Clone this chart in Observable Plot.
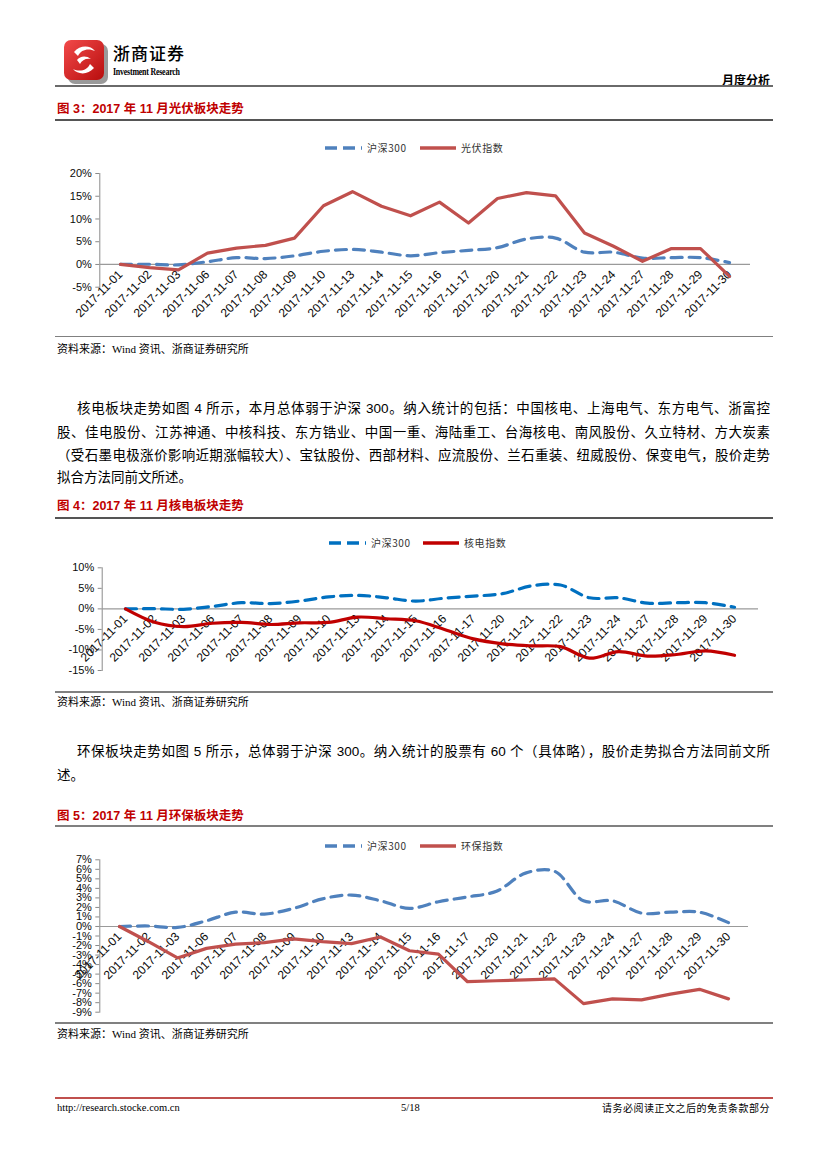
<!DOCTYPE html>
<html><head><meta charset="utf-8">
<script src="https://cdn.jsdelivr.net/npm/d3@7"></script>
<script src="https://cdn.jsdelivr.net/npm/@observablehq/plot@0.6"></script>
<style>
body{margin:0;background:#fff;}
#page{position:relative;width:827px;height:1169px;overflow:hidden;font-family:"Noto Sans CJK SC",sans-serif;color:#000;background:#fff;}
.abs{position:absolute;white-space:nowrap;}
.hr{position:absolute;left:55px;width:718px;}
.title{position:absolute;left:57px;font-family:"Liberation Sans","Noto Sans CJK SC";font-weight:bold;font-size:12.5px;color:#C00000;line-height:16px;white-space:nowrap;}
.src{position:absolute;left:57px;font-size:11px;line-height:14px;font-family:"Liberation Serif","Noto Sans CJK SC";white-space:nowrap;}
.pl{position:absolute;left:57px;width:713px;font-size:13.5px;line-height:18px;text-align:justify;text-align-last:justify;font-family:"Liberation Sans","Noto Sans CJK SC";}
.leg{position:absolute;font-size:10px;line-height:12px;color:#333;letter-spacing:0.6px;white-space:nowrap;}
.chart{position:absolute;left:0;overflow:visible;}
.chart text{fill:#0a0a0a;}
</style></head>
<body><div id="page"></div>
<script>
const dates = ["2017-11-01","2017-11-02","2017-11-03","2017-11-06","2017-11-07","2017-11-08","2017-11-09","2017-11-10","2017-11-13","2017-11-14","2017-11-15","2017-11-16","2017-11-17","2017-11-20","2017-11-21","2017-11-22","2017-11-23","2017-11-24","2017-11-27","2017-11-28","2017-11-29","2017-11-30"];
const hs300 = [0, 0.05, -0.1, 0.6, 1.5, 1.3, 1.9, 2.9, 3.3, 2.7, 1.9, 2.6, 3.1, 3.7, 5.6, 5.8, 2.7, 2.7, 1.4, 1.5, 1.5, 0.4];
const pvIndex = [0, -0.7, -1.2, 2.5, 3.6, 4.2, 5.8, 12.9, 16.0, 12.8, 10.7, 13.7, 9.1, 14.5, 15.8, 15.1, 6.9, 4.0, 0.7, 3.5, 3.5, -2.6];
const nuclearIndex = [0, -3.25, -4.3, -3.5, -3.3, -3.8, -3.4, -3.3, -2.0, -2.4, -2.9, -5.0, -7.3, -8.5, -9.0, -9.2, -12.0, -10.4, -11.5, -11.1, -10.2, -11.3];
const envIndex = [0, -1.6, -3.3, -2.3, -1.85, -1.7, -1.3, -1.6, -1.8, -1.1, -2.55, -2.9, -5.8, -5.7, -5.6, -5.5, -8.1, -7.6, -7.7, -7.1, -6.6, -7.6];

const ticks1 = [-5, 0, 5, 10, 15, 20];
const ticks2 = [-15, -10, -5, 0, 5, 10];
const ticks3 = [-9,-8,-7,-6,-5,-4,-3,-2,-1,0,1,2,3,4,5,6,7];

const page = document.getElementById("page");
function add(html){ page.insertAdjacentHTML("beforeend", html); }

// header
add(`<svg class="abs" style="left:62px;top:38px" width="48" height="48" viewBox="0 0 48 48">
<defs><linearGradient id="lg" x1="0" y1="0" x2="1" y2="1"><stop offset="0" stop-color="#f24a4a"/><stop offset="1" stop-color="#b80d0d"/></linearGradient></defs>
<rect x="6" y="6" width="40" height="40" rx="7" fill="#9a9a9a"/>
<rect x="2" y="2" width="40" height="40" rx="7" fill="url(#lg)"/>
<path d="M12 14 C18 7 28 7 33 13 C27 10 19 11 16 18 Z" fill="#fff"/>
<path d="M32 30 C26 37 16 37 11 31 C17 34 25 33 28 26 Z" fill="#fff"/>
<path d="M15 22 C18 18 24 17 29 21 C24 20 20 22 18 26 Z" fill="#fff"/>
</svg>`);
add(`<div class="abs" style="left:113px;top:43px;font-size:17px;line-height:20px;font-weight:500;letter-spacing:1px;">浙商证券</div>`);
add(`<div class="abs" style="left:113px;top:65px;font-family:'Liberation Serif';font-weight:bold;font-size:11px;line-height:12px;transform:scaleX(0.72);transform-origin:left;letter-spacing:-0.3px;">Investment Research</div>`);
add(`<div class="abs" style="right:57px;top:72px;font-size:12px;line-height:15px;font-weight:bold;">月度分析</div>`);
add(`<div class="hr" style="top:85px;height:2px;background:#6a6a6a"></div>`);

// figure 3
add(`<div class="title" style="top:101px">图 3：2017 年 11 月光伏板块走势</div>`);
add(`<div class="hr" style="top:119px;height:1.5px;background:#555"></div>`);
add(`<div class="hr" style="top:336px;height:1px;background:#808080"></div>`);
add(`<div class="src" style="top:342px">资料来源：Wind 资讯、浙商证券研究所</div>`);

// paragraph 1
add(`<div class="pl" style="top:400px;left:77px;width:693px">核电板块走势如图 4 所示，本月总体弱于沪深 300。纳入统计的包括：中国核电、上海电气、东方电气、浙富控</div>`);
add(`<div class="pl" style="top:424px">股、佳电股份、江苏神通、中核科技、东方锆业、中国一重、海陆重工、台海核电、南风股份、久立特材、方大炭素</div>`);
add(`<div class="pl" style="top:447px">（受石墨电极涨价影响近期涨幅较大）、宝钛股份、西部材料、应流股份、兰石重装、纽威股份、保变电气，股价走势</div>`);
add(`<div class="pl" style="top:469px;text-align:left;text-align-last:left">拟合方法同前文所述。</div>`);

// figure 4
add(`<div class="title" style="top:498px">图 4：2017 年 11 月核电板块走势</div>`);
add(`<div class="hr" style="top:517px;height:1.5px;background:#555"></div>`);
add(`<div class="hr" style="top:691px;height:2px;background:#808080"></div>`);
add(`<div class="src" style="top:695px">资料来源：Wind 资讯、浙商证券研究所</div>`);

// paragraph 2
add(`<div class="pl" style="top:743px;left:77px;width:693px">环保板块走势如图 5 所示，总体弱于沪深 300。纳入统计的股票有 60 个（具体略），股价走势拟合方法同前文所</div>`);
add(`<div class="pl" style="top:767px;text-align:left;text-align-last:left">述。</div>`);

// figure 5
add(`<div class="title" style="top:808px">图 5：2017 年 11 月环保板块走势</div>`);
add(`<div class="hr" style="top:825px;height:2px;background:#808080"></div>`);
add(`<div class="hr" style="top:1022px;height:1.5px;background:#808080"></div>`);
add(`<div class="src" style="top:1027px">资料来源：Wind 资讯、浙商证券研究所</div>`);

// footer
add(`<div class="hr" style="top:1097px;height:1.5px;background:#c0504d"></div>`);
add(`<div class="src" style="top:1101px;font-size:10.5px">http://research.stocke.com.cn</div>`);
add(`<div class="src" style="top:1101px;left:401px;font-size:10.5px">5/18</div>`);
add(`<div class="abs" style="right:57px;top:1101px;font-size:10px;line-height:14px;letter-spacing:0.5px">请务必阅读正文之后的免责条款部分</div>`);

// legends
function legend(y, x0, blue, red, name, redX, textX2, blueTextX){
  add(`<svg class="abs" style="left:${x0}px;top:${y-3}px" width="40" height="6"><line x1="0" y1="3" x2="37" y2="3" stroke="${blue}" stroke-width="3.5" stroke-dasharray="12,6"/></svg>`);
  add(`<div class="leg" style="left:${blueTextX}px;top:${y-6}px">沪深300</div>`);
  add(`<svg class="abs" style="left:${redX}px;top:${y-3}px" width="40" height="6"><line x1="0" y1="3" x2="36" y2="3" stroke="${red}" stroke-width="3.5"/></svg>`);
  add(`<div class="leg" style="left:${textX2}px;top:${y-6}px">${name}</div>`);
}
legend(148, 325, "#4F81BD", "#C0504D", "光伏指数", 420, 461, 367);
legend(543, 329, "#0070C0", "#C00000", "核电指数", 423, 464, 371);
legend(846, 325, "#4F81BD", "#C0504D", "环保指数", 420, 461, 367);

function chart(o){
  const table = dates.map((d,i)=>({date:d, hs:hs300[i], idx:o.values[i]}));
  const svg = Plot.plot({
    width: 827, height: o.height,
    marginTop: o.mt, marginBottom: o.mb, marginLeft: o.ml, marginRight: o.mr,
    style: {fontFamily: "Liberation Sans, Arial, sans-serif", fontSize: "11px", background: "transparent", overflow: "visible", color: "#8a8a8a"},
    x: {type: "point", domain: dates, padding: 0.5, axis: null},
    y: {domain: o.domain, ticks: o.ticks, tickFormat: d => d + "%", tickSize: 4, tickPadding: 4, line: true, label: null},
    marks: [
      Plot.ruleY([0], {stroke: "#9a9a9a", strokeWidth: 1.2}),
      Plot.text(dates, {x: d => d, y: () => 0, text: d => d, rotate: -45, textAnchor: "end", dx: 0, dy: 8, fontSize: 12}),
      Plot.line(table, {x: "date", y: "hs", stroke: o.blue, strokeWidth: 3.2, strokeDasharray: "11,7", curve: "catmull-rom"}),
      Plot.line(table, {x: "date", y: "idx", stroke: o.red, strokeWidth: 3.2, curve: o.curve || "linear"})
    ]
  });
  svg.classList.add("chart");
  svg.style.top = o.top + "px";
  page.appendChild(svg);
}

chart({top: 160, height: 176, mt: 13, mb: 49.3, ml: 99.3, mr: 77, domain: [-5, 20], ticks: ticks1, values: pvIndex, blue: "#4F81BD", red: "#C0504D"});
chart({top: 555, height: 130, mt: 12.3, mb: 15, ml: 101.7, mr: 69, domain: [-15, 10], ticks: ticks2, values: nuclearIndex, blue: "#0070C0", red: "#C00000", curve: "catmull-rom"});
chart({top: 850, height: 170, mt: 9.3, mb: 8.3, ml: 99.3, mr: 79, domain: [-9, 7], ticks: ticks3, values: envIndex, blue: "#4F81BD", red: "#C0504D"});
</script>
</body></html>
